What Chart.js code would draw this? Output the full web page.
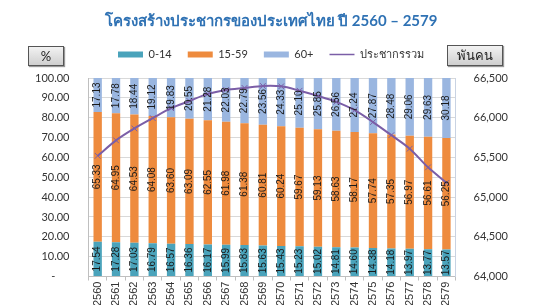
<!DOCTYPE html>
<html>
<head>
<meta charset="utf-8">
<script src="https://cdn.jsdelivr.net/npm/chart.js@4.4.1/dist/chart.umd.min.js"></script>
<style>
  html, body { margin: 0; padding: 0; background: #fff; }
  #wrap { position: relative; width: 544px; height: 305px; }
  .unit {
    position: absolute; font: 13px Lato, "Noto Sans", sans-serif; color: #222;
    background: linear-gradient(#f2f2f2, #cfcfcf); border: 1px solid #555;
    box-shadow: 1px 1px 1px #999; text-align: center; line-height: 18px;
  }
</style>
</head>
<body>
<div id="wrap">
  <canvas id="popChart" width="544" height="305"></canvas>
  <div class="unit" style="left:28px;top:46px;width:34px;height:18px;">%</div>
  <div class="unit" style="left:447px;top:45px;width:54px;height:19px;">พันคน</div>
</div>
<script>
// years (B.E.)
const years = ['2560','2561','2562','2563','2564','2565','2566','2567','2568','2569',
               '2570','2571','2572','2573','2574','2575','2576','2577','2578','2579'];
// share of population by age group, %
const age0to14 = [17.54, 17.28, 17.03, 16.79, 16.57, 16.36, 16.17, 15.99, 15.83, 15.63,
                  15.43, 15.23, 15.02, 14.81, 14.60, 14.38, 14.18, 13.97, 13.77, 13.57];
const age15to59 = [65.33, 64.95, 64.53, 64.08, 63.60, 63.09, 62.55, 61.98, 61.38, 60.81,
                   60.24, 59.67, 59.13, 58.63, 58.17, 57.74, 57.35, 56.97, 56.61, 56.25];
const age60plus = [17.13, 17.78, 18.44, 19.12, 19.83, 20.55, 21.28, 22.03, 22.79, 23.56,
                   24.33, 25.10, 25.85, 26.56, 27.24, 27.87, 28.48, 29.06, 29.63, 30.18];
// total population, thousand persons
const totalPop = [65520, 65715, 65865, 65995, 66120, 66210, 66300, 66350, 66375, 66400,
                  66395, 66340, 66275, 66200, 66095, 65945, 65780, 65610, 65375, 65180];

const labelFont = '10px "Liberation Sans Narrow", "Liberation Sans", sans-serif';

// value labels inside the bars, rotated like the x labels
const barLabels = {
    id: 'barLabels',
    afterDatasetsDraw(chart) {
        const ctx = chart.ctx;
        ctx.save();
        ctx.font = labelFont;
        ctx.fillStyle = '#1a1a1a';
        ctx.textAlign = 'center';
        ctx.textBaseline = 'middle';
        chart.data.datasets.forEach((ds, i) => {
            if (ds.type === 'line') return;
            chart.getDatasetMeta(i).data.forEach((bar, j) => {
                const cy = (bar.y + bar.base) / 2;
                ctx.save();
                ctx.translate(bar.x, cy);
                ctx.rotate(-Math.PI / 2);
                ctx.fillText(ds.data[j].toFixed(2), 0, 0);
                ctx.restore();
            });
        });
        ctx.restore();
    }
};

// a bit more room under the legend
const legendGap = {
    id: 'legendGap',
    beforeInit(chart) {
        const fit = chart.legend.fit;
        chart.legend.fit = function () {
            fit.call(this);
            this.height += 8;
        };
    }
};

const ctx = document.getElementById('popChart').getContext('2d');
const popChart = new Chart(ctx, {
    data: {
        labels: years,
        datasets: [
            {
                type: 'line',
                label: 'ประชากรรวม',
                data: totalPop,
                yAxisID: 'y1',
                borderColor: '#7b5ea7',
                backgroundColor: '#7b5ea7',
                borderWidth: 2,
                pointStyle: 'crossRot',
                pointRadius: 4,
                pointBorderWidth: 1,
                tension: 0.3,
                order: 0
            },
            {
                type: 'bar',
                label: '0-14',
                data: age0to14,
                backgroundColor: '#4aa3bb',
                order: 1
            },
            {
                type: 'bar',
                label: '15-59',
                data: age15to59,
                backgroundColor: '#ee8b3e',
                order: 1
            },
            {
                type: 'bar',
                label: '60+',
                data: age60plus,
                backgroundColor: '#9ab6e0',
                order: 1
            }
        ]
    },
    options: {
        responsive: false,
        animation: false,
        layout: { padding: { left: 16, right: 18, bottom: -2 } },
        datasets: {
            bar: { barPercentage: 0.48, categoryPercentage: 0.95 }
        },
        plugins: {
            title: {
                display: true,
                text: 'โครงสร้างประชากรของประเทศไทย ปี 2560 – 2579',
                color: '#2f72b4',
                font: { size: 15, weight: 'bold', family: 'Lato, "Noto Sans", sans-serif' },
                padding: { top: 12, bottom: 3 }
            },
            legend: {
                labels: {
                    usePointStyle: true,
                    pointStyleWidth: 25,
                    boxHeight: 6,
                    padding: 16,
                    color: '#333',
                    font: { size: 11, family: 'Lato, "Noto Sans", sans-serif' },
                    sort: (a, b) => (a.datasetIndex === 0) - (b.datasetIndex === 0),
                    generateLabels(chart) {
                        return chart.data.datasets.map((ds, i) => ({
                            text: ds.label,
                            fillStyle: ds.backgroundColor,
                            strokeStyle: ds.type === 'line' ? ds.borderColor : ds.backgroundColor,
                            lineWidth: ds.type === 'line' ? 1.5 : 0,
                            pointStyle: ds.type === 'line' ? 'line' : 'rect',
                            fontColor: '#333',
                            datasetIndex: i
                        }));
                    }
                }
            },
            tooltip: { enabled: false }
        },
        scales: {
            x: {
                stacked: true,
                offset: true,
                grid: { display: true, drawOnChartArea: false, offset: true, tickLength: 4, color: '#bfbfbf' },
                border: { color: '#bfbfbf' },
                ticks: {
                    minRotation: 90,
                    maxRotation: 90,
                    padding: 1,
                    color: '#333',
                    font: { size: 11, family: '"Liberation Sans Narrow", "Liberation Sans", sans-serif' }
                }
            },
            y: {
                stacked: true,
                min: 0,
                max: 100,
                position: 'left',
                grid: { color: '#d9d9d9', drawTicks: false },
                border: { color: '#bfbfbf' },
                ticks: {
                    stepSize: 10,
                    padding: 19,
                    color: '#333',
                    font: { size: 11, family: 'Lato, "Noto Sans", sans-serif' },
                    callback: v => v === 0 ? '-     ' : v.toFixed(2)
                }
            },
            y1: {
                min: 64000,
                max: 66500,
                position: 'right',
                grid: { drawOnChartArea: false, drawTicks: false },
                border: { color: '#c9d3e3' },
                ticks: {
                    stepSize: 500,
                    padding: 18,
                    color: '#333',
                    font: { size: 11, family: 'Lato, "Noto Sans", sans-serif' },
                    callback: v => v.toLocaleString('en-US')
                }
            }
        }
    },
    plugins: [barLabels, legendGap]
});
</script>
</body>
</html>
